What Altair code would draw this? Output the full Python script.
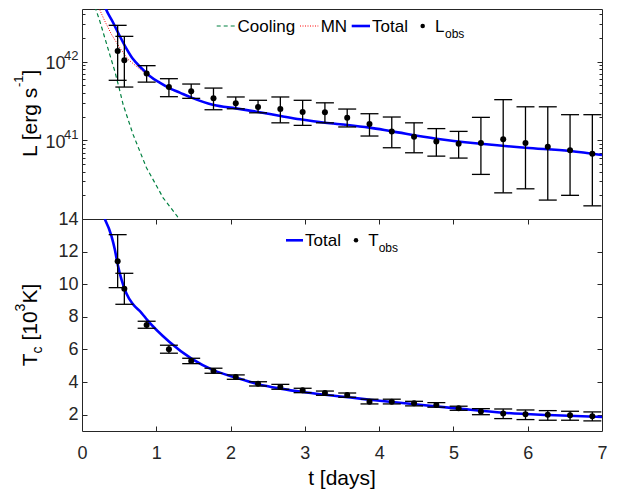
import altair as alt
import pandas as pd

# ---------------- data ----------------
t_obs = [0.48, 0.57, 0.87, 1.17, 1.47, 1.77, 2.07, 2.37, 2.67, 2.97, 3.27, 3.57,
         3.87, 4.17, 4.47, 4.77, 5.07, 5.37, 5.67, 5.97, 6.27, 6.57, 6.87]
L_obs = [1.37e42, 1.04e42, 7.1e41, 4.76e41, 4.2e41, 3.42e41, 2.96e41, 2.65e41, 2.50e41,
         2.29e41, 2.27e41, 1.94e41, 1.61e41, 1.30e41, 1.11e41, 9.7e40, 9.06e40, 9.24e40,
         1.03e41, 9.24e40, 8.3e40, 7.47e40, 6.76e40]
L_hi = [2.90e42, 2.10e42, 8.9e41, 6.08e41, 5.2e41, 4.62e41, 3.56e41, 3.23e41, 3.56e41,
        3.23e41, 3.0e41, 2.50e41, 2.18e41, 1.98e41, 1.67e41, 1.41e41, 1.30e41, 1.96e41,
        3.29e41, 2.67e41, 2.67e41, 2.12e41, 2.12e41]
L_lo = [5.8e41, 4.76e41, 5.5e41, 3.59e41, 3.42e41, 2.45e41, 2.52e41, 2.24e41, 1.67e41,
        1.55e41, 1.67e41, 1.48e41, 1.135e41, 8.05e40, 6.95e40, 6.3e40, 5.95e40, 3.69e40,
        2.15e40, 2.42e40, 1.74e40, 2.0e40, 1.47e40]
T_obs = [11.41, 9.73, 7.50, 6.01, 5.29, 4.68, 4.31, 3.90, 3.70, 3.50, 3.33, 3.21,
         2.80, 2.80, 2.70, 2.60, 2.40, 2.19, 2.07, 2.03, 2.00, 1.96, 1.90]
T_hi = [13.04, 10.67, 7.73, 6.26, 5.46, 4.85, 4.44, 4.02, 3.86, 3.62, 3.45, 3.33,
        2.95, 2.95, 2.82, 2.74, 2.52, 2.37, 2.35, 2.29, 2.25, 2.21, 2.17]
T_lo = [9.79, 8.77, 7.30, 5.77, 5.13, 4.54, 4.17, 3.76, 3.56, 3.35, 3.19, 3.07,
        2.66, 2.66, 2.54, 2.46, 2.27, 2.00, 1.76, 1.70, 1.66, 1.66, 1.62]

cool_t = [0.15, 0.171, 0.239, 0.306, 0.373, 0.441, 0.499, 0.553, 0.687, 0.868, 1.092, 1.28, 1.35]
cool_L = [7.5e42, 5.1e42, 3.3e42, 2.02e42, 1.24e42, 7.6e41, 4.67e41, 2.87e41, 1.19e41,
          4.48e40, 1.86e40, 1.09e40, 8.5e39]

mn_t = [0.19, 0.216, 0.306, 0.396, 0.508, 0.62, 0.755, 0.911, 1.181, 1.474, 1.775, 2.071,
        2.674, 3.271, 3.873, 4.771, 5.369, 5.97, 6.572, 7.0]
mn_L = [6.5e42, 5.1e42, 3.3e42, 2.23e42, 1.51e42, 1.07e42, 8.4e41, 6.45e41, 4.52e41, 3.45e41,
        2.78e41, 2.53e41, 2.03e41, 1.66e41, 1.445e41, 1.045e41, 9.03e40, 8.03e40, 7.29e40, 6.49e40]

tot_t = [0.27, 0.306, 0.418, 0.508, 0.598, 0.687, 0.80, 0.911, 1.046, 1.181, 1.317, 1.474,
         1.775, 2.071, 2.372, 2.674, 2.935, 3.271, 3.577, 3.873, 4.174, 4.771, 5.369, 5.97,
         6.572, 7.0]
tot_L = [6.5e42, 5.1e42, 3.15e42, 2.12e42, 1.47e42, 1.08e42, 8.3e41, 6.58e41, 5.41e41, 4.59e41,
         4.04e41, 3.49e41, 2.81e41, 2.55e41, 2.29e41, 2.04e41, 1.85e41, 1.67e41, 1.57e41,
         1.45e41, 1.30e41, 1.05e41, 9.06e40, 8.05e40, 7.31e40, 6.50e40]

tc_t = [0.306, 0.396, 0.441, 0.485, 0.531, 0.598, 0.687, 0.80, 0.88, 1.178, 1.474, 1.775,
        2.075, 2.372, 2.674, 2.974, 3.271, 3.873, 4.474, 5.073, 5.670, 6.272, 7.0]
tc_T = [14.0, 12.96, 12.14, 11.12, 10.30, 9.43, 8.77, 8.25, 7.80, 6.46, 5.44, 4.72,
        4.27, 3.87, 3.60, 3.39, 3.22, 2.92, 2.64, 2.37, 2.12, 1.98, 1.86]

L_major = [1e41, 1e42]
L_minor = [m * 10 ** e for e in (40, 41) for m in range(2, 10)] + [2e42, 3e42, 4e42]
T_ticks = [2, 4, 6, 8, 10, 12]
T_labels = [2, 4, 6, 8, 10, 12, 14]
x_ticks_in = [1, 2, 3, 4, 5, 6]
x_labels = [0, 1, 2, 3, 4, 5, 6, 7]

# ---------------- styling ----------------
W, H1, H2 = 520, 210, 212
AX = "#262626"
FONT = "Liberation Sans"
BLUE = "#0000FF"
RED = "#FF0000"
GREEN = "#008040"
TICK_FS = 18
TITLE_FS = 21
LEG_FS = 17
CAP_HALF = 0.121

xs = alt.Scale(domain=[0, 7], nice=False, zero=False)
ys1 = alt.Scale(type="log", domain=[1e40, 10 ** 42.67], nice=False)
ys2 = alt.Scale(domain=[1, 14], nice=False, zero=False)


def tick_axis(orient, values, size, offset):
    return alt.Axis(orient=orient, values=values, offset=offset, tickSize=size,
                    tickColor=AX, tickWidth=1, labels=False, domain=False,
                    grid=False, title=None)


def label_axis(orient, values, pad, fs=TICK_FS, expr=None, loff=0):
    kw = dict(orient=orient, values=values, ticks=False, tickSize=0, domain=False,
              grid=False, title=None, labelFontSize=fs, labelPadding=pad,
              labelColor=AX, labelFont=FONT, labelFlush=False, labelOffset=loff,
              labelOverlap=False)
    if expr is not None:
        kw["labelExpr"] = expr
    return alt.Axis(**kw)


one = alt.Data(values=[{}])


def seg(x1, x2, y, color, width, dash=None):
    kw = dict(color=color, strokeWidth=width)
    if dash is not None:
        kw["strokeDash"] = dash
    return alt.Chart(one).mark_rule(**kw).encode(
        x=alt.value(x1), x2=alt.value(x2), y=alt.value(y))


def txt(s, x, y, fs, align="left", baseline="middle", angle=0, color="black"):
    kw = dict(align=align, baseline=baseline, fontSize=fs, font=FONT, color=color)
    if angle:
        kw["angle"] = angle
    return alt.Chart(one).mark_text(**kw).encode(
        x=alt.value(x), y=alt.value(y), text=alt.value(s))


def dot(x, y, size=20):
    return alt.Chart(one).mark_circle(color="black", opacity=1, size=size).encode(
        x=alt.value(x), y=alt.value(y))


# invisible anchor that fixes the left edge of the drawing at 74px left of the plot
anchor = alt.Chart(one).mark_rule(strokeWidth=1, strokeOpacity=0).encode(
    x=alt.value(-73.5), y=alt.value(2), y2=alt.value(3))

# ---------------- top panel ----------------
obs_top = pd.DataFrame({"t": t_obs, "L": L_obs, "lo": L_lo, "hi": L_hi})
cool_df = pd.DataFrame({"t": cool_t, "L": cool_L})
mn_df = pd.DataFrame({"t": mn_t, "L": mn_L})
tot_df = pd.DataFrame({"t": tot_t, "L": tot_L})

xn = alt.X("t:Q", scale=xs, axis=None)

cool_line = alt.Chart(cool_df).mark_line(color=GREEN, strokeDash=[4, 3], strokeWidth=1.2, clip=True).encode(
    x=xn, y=alt.Y("L:Q", scale=ys1, axis=tick_axis("right", L_major, 5, -W)))
mn_line = alt.Chart(mn_df).mark_line(color=RED, strokeDash=[1, 1.5], strokeWidth=1, clip=True).encode(
    x=xn, y=alt.Y("L:Q", scale=ys1, axis=tick_axis("right", L_minor, 3, -W)))
tot_line = alt.Chart(tot_df).mark_line(color=BLUE, strokeWidth=2.6, clip=True, interpolate="monotone").encode(
    x=xn, y=alt.Y("L:Q", scale=ys1, axis=tick_axis("left", L_major, 5, -W)))
err_top = alt.Chart(obs_top).mark_rule(color="black", strokeWidth=1.3, clip=True).encode(
    x=xn, y=alt.Y("lo:Q", scale=ys1, axis=tick_axis("left", L_minor, 3, -W)), y2="hi:Q")
caplo_top = alt.Chart(obs_top).transform_calculate(
    a=f"datum.t - {CAP_HALF}", b=f"datum.t + {CAP_HALF}").mark_rule(
    color="black", strokeWidth=1.3, clip=True).encode(
    x=alt.X("a:Q", scale=xs, axis=None), x2="b:Q",
    y=alt.Y("lo:Q", scale=ys1, axis=label_axis("left", L_major, 17, expr="'10'", loff=2)))
caphi_top = alt.Chart(obs_top).transform_calculate(
    a=f"datum.t - {CAP_HALF}", b=f"datum.t + {CAP_HALF}").mark_rule(
    color="black", strokeWidth=1.3, clip=True).encode(
    x=alt.X("a:Q", scale=xs, axis=None), x2="b:Q",
    y=alt.Y("hi:Q", scale=ys1, axis=label_axis(
        "left", L_major, 4, fs=13, expr="datum.value > 5e41 ? '42' : '41'", loff=-6)))
pts_top = alt.Chart(obs_top).mark_circle(color="black", opacity=1, size=36, clip=True).encode(
    x=xn, y=alt.Y("L:Q", scale=ys1, axis=None))

leg_top = [
    seg(134.7, 154.7, 17, GREEN, 1.2, [4, 3]),
    txt("Cooling", 155.5, 17.5, LEG_FS),
    seg(218, 236.3, 17, RED, 1, [1, 1.5]),
    txt("MN", 238.7, 17.5, LEG_FS),
    seg(269.7, 288, 17, BLUE, 2.6),
    txt("Total", 290, 17.5, LEG_FS),
    dot(340.7, 17),
    txt("L", 353, 17.5, LEG_FS),
    txt("obs", 363, 25, 12),
]

# y title: L [erg s^-1]
y0 = 148.0
w_main = 70.0
ytitle_top = [
    txt("L [erg s", -45.5, y0, TITLE_FS, align="left", baseline="alphabetic", angle=270),
    txt("-1", -59, y0 - w_main, 13, align="left", baseline="alphabetic", angle=270),
    txt("]", -45.5, y0 - w_main - 11.6, TITLE_FS, align="left", baseline="alphabetic", angle=270),
]

top = alt.layer(cool_line, mn_line, tot_line, err_top, caplo_top, caphi_top, pts_top,
                *leg_top, *ytitle_top, anchor).resolve_scale(
    x="shared", y="shared").resolve_axis(x="independent", y="independent").properties(
    width=W, height=H1)

# ---------------- bottom panel ----------------
obs_bot = pd.DataFrame({"t": t_obs, "T": T_obs, "lo": T_lo, "hi": T_hi})
tc_df = pd.DataFrame({"t": tc_t, "T": tc_T})

tc_line = alt.Chart(tc_df).mark_line(color=BLUE, strokeWidth=2.6, clip=True, interpolate="monotone").encode(
    x=alt.X("t:Q", scale=xs, axis=tick_axis("top", x_ticks_in, 5, -H2)),
    y=alt.Y("T:Q", scale=ys2, axis=tick_axis("right", T_ticks, 5, -W)))
err_bot = alt.Chart(obs_bot).mark_rule(color="black", strokeWidth=1.3, clip=True).encode(
    x=alt.X("t:Q", scale=xs, axis=tick_axis("bottom", x_ticks_in, 5, -H2)),
    y=alt.Y("lo:Q", scale=ys2, axis=tick_axis("left", T_ticks, 5, -W)), y2="hi:Q")
caplo_bot = alt.Chart(obs_bot).transform_calculate(
    a=f"datum.t - {CAP_HALF}", b=f"datum.t + {CAP_HALF}").mark_rule(
    color="black", strokeWidth=1.3, clip=True).encode(
    x=alt.X("a:Q", scale=xs, axis=label_axis("bottom", x_labels, 13)), x2="b:Q",
    y=alt.Y("lo:Q", scale=ys2, axis=label_axis("left", T_labels, 4)))
caphi_bot = alt.Chart(obs_bot).transform_calculate(
    a=f"datum.t - {CAP_HALF}", b=f"datum.t + {CAP_HALF}").mark_rule(
    color="black", strokeWidth=1.3, clip=True).encode(
    x=alt.X("a:Q", scale=xs, axis=None), x2="b:Q",
    y=alt.Y("hi:Q", scale=ys2, axis=None))
pts_bot = alt.Chart(obs_bot).mark_circle(color="black", opacity=1, size=36, clip=True).encode(
    x=alt.X("t:Q", scale=xs, axis=None), y=alt.Y("T:Q", scale=ys2, axis=None))

leg_bot = [
    seg(204, 221, 21.3, BLUE, 2.6),
    txt("Total", 223, 21.5, LEG_FS),
    dot(274, 21.3),
    txt("T", 286.3, 21.5, LEG_FS),
    txt("obs", 296.7, 28.5, 12),
]

# y title: T_c [10^3K]
y1 = 147.2
w_T, w_c, w_sp, w_10, w_3 = 12.8, 7.0, 5.8, 29.2, 7.8
ytitle_bot = [
    txt("T", -45.5, y1, TITLE_FS, align="left", baseline="alphabetic", angle=270),
    txt("c", -40.5, y1 - w_T, 14, align="left", baseline="alphabetic", angle=270),
    txt("[10", -45.5, y1 - w_T - w_c - w_sp, TITLE_FS, align="left", baseline="alphabetic", angle=270),
    txt("3", -57.5, y1 - w_T - w_c - w_sp - w_10, 14, align="left", baseline="alphabetic", angle=270),
    txt("K]", -45.5, y1 - w_T - w_c - w_sp - w_10 - w_3, TITLE_FS, align="left", baseline="alphabetic", angle=270),
]
xtitle = txt("t [days]", W / 2, H2 + 54, TITLE_FS, align="center", baseline="alphabetic")

bot = alt.layer(tc_line, err_bot, caplo_bot, caphi_bot, pts_bot,
                *leg_bot, *ytitle_bot, xtitle).resolve_scale(
    x="shared", y="shared").resolve_axis(x="independent", y="independent").properties(
    width=W, height=H2)

chart = alt.vconcat(top, bot, spacing=0, bounds="flush").properties(
    autosize=alt.AutoSizeParams(type="pad"),
    padding=0,
).configure_view(stroke=AX, strokeWidth=1)

chart.save("out.html", embed_options={"renderer": "svg", "actions": False})
